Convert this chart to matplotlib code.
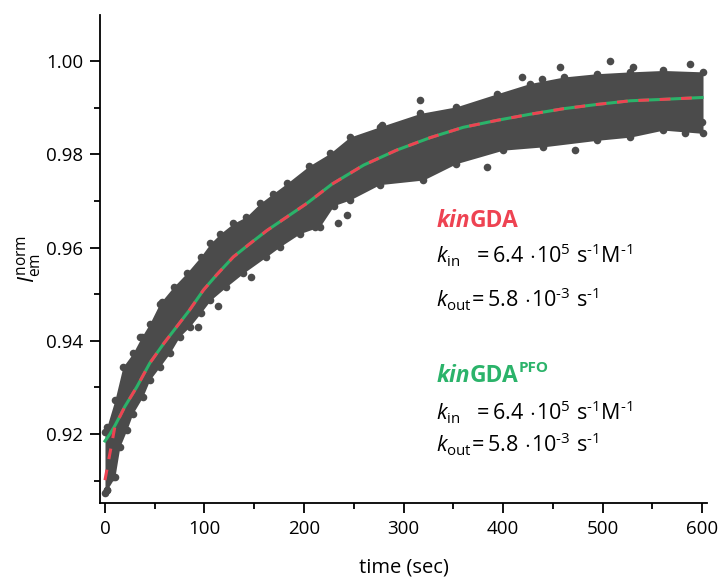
import numpy as np
import matplotlib
matplotlib.use('Agg')
import matplotlib.pyplot as plt

plt.rcParams['font.family'] = ['Open Sans', 'DejaVu Sans']
plt.rcParams['mathtext.fontset'] = 'custom'
plt.rcParams['mathtext.rm'] = 'Open Sans'
plt.rcParams['mathtext.it'] = 'Open Sans:italic'
plt.rcParams['mathtext.bf'] = 'Open Sans:bold'

# fit curves
fit_t = [0, 5, 10, 20, 32, 45, 59, 72, 85, 99, 112, 129, 146, 163, 183, 203, 228, 260, 293, 327,
         360, 394, 427, 461, 494, 528, 561, 600]
fit_red = [0.9101, 0.9159, 0.9216, 0.9259, 0.9301, 0.9352, 0.9394, 0.9430, 0.9466, 0.9509, 0.9541,
           0.9580, 0.9609, 0.9637, 0.9666, 0.9695, 0.9736, 0.9777, 0.9809, 0.9836, 0.9858, 0.9873,
           0.9886, 0.9898, 0.9907, 0.9915, 0.9918, 0.9922]
fit_green = [0.9185, 0.9200, 0.9218] + fit_red[3:]

# edges of the measured point cloud
up_t = [0, 2, 10, 18, 28, 37, 45, 55, 69, 82, 96, 106, 116, 129, 142, 156, 169, 183, 205, 226, 246,
        276, 317, 353, 394, 427, 461, 494, 528, 561, 601]
up_v = [0.9205, 0.9216, 0.9273, 0.9344, 0.9373, 0.9409, 0.9437, 0.9480, 0.9516, 0.9545, 0.9580,
        0.9609, 0.9630, 0.9652, 0.9666, 0.9695, 0.9716, 0.9738, 0.9775, 0.9802, 0.9837, 0.9859,
        0.9888, 0.9902, 0.9930, 0.9952, 0.9966, 0.9973, 0.9977, 0.9980, 0.9977]
lo_t = [0, 2, 10, 15, 22, 28, 38, 45, 55, 65, 75, 85, 96, 106, 122, 139, 162, 176, 196, 216, 230,
        246, 276, 320, 353, 400, 440, 494, 528, 561, 601]
lo_v = [0.9074, 0.9080, 0.9108, 0.9173, 0.9209, 0.9244, 0.9280, 0.9316, 0.9344, 0.9373, 0.9409,
        0.9430, 0.9459, 0.9487, 0.9516, 0.9545, 0.9580, 0.9602, 0.9630, 0.9645, 0.9690, 0.9702,
        0.9735, 0.9745, 0.9780, 0.9809, 0.9816, 0.9830, 0.9837, 0.9852, 0.9845]

# stray points outside the dense band
out_t = [457, 508, 531, 588, 419, 439, 317, 278, 234, 243, 384, 472, 600, 583, 211, 93, 114, 147,
         57, 35, 8, 2]
out_v = [0.9988, 1.0001, 0.9988, 0.9993, 0.9966, 0.9962, 0.9916, 0.9862, 0.9652, 0.9670, 0.9773,
         0.9809, 0.9869, 0.9845, 0.9644, 0.9429, 0.9474, 0.9537, 0.9483, 0.9408, 0.9108, 0.9080]

grey = '#4b4b4b'
red = '#ee4352'
green = '#2bb36a'

fig = plt.figure(figsize=(7.2, 5.8), dpi=100)
ax = fig.add_axes([100/720, 77/580, 607/720, 488/580])

# band: both edges put on a common grid of the read times
grid = np.union1d(up_t, lo_t)
ax.fill_between(grid, np.interp(grid, lo_t, lo_v), np.interp(grid, up_t, up_v), color=grey, lw=0, zorder=1)
ax.scatter(up_t, up_v, s=30, color=grey, lw=0, zorder=1)
ax.scatter(lo_t, lo_v, s=30, color=grey, lw=0, zorder=1)
ax.scatter(out_t, out_v, s=30, color=grey, lw=0, zorder=1)

ax.plot(fit_t, fit_green, color=green, lw=2.2, zorder=3)
ax.plot(fit_t, fit_red, color=red, lw=2.2, dashes=(3.5, 3.5), zorder=4)

ax.set_xlim(-5, 605)
ax.set_ylim(0.9052, 1.0099)
ax.set_xticks([0, 100, 200, 300, 400, 500, 600])
ax.set_xticks(np.arange(50, 600, 100), minor=True)
ax.set_yticks([0.92, 0.94, 0.96, 0.98, 1.00])
ax.set_yticks([0.91, 0.93, 0.95, 0.97, 0.99], minor=True)
ax.set_yticklabels(['0.92', '0.94', '0.96', '0.98', '1.00'])

for s in ['top', 'right']:
    ax.spines[s].set_visible(False)
for s in ['left', 'bottom']:
    ax.spines[s].set_linewidth(1.3)
ax.tick_params(which='major', length=7, width=1.3, labelsize=13.5, pad=5, direction='out')
ax.tick_params(which='minor', length=4, width=1.3, direction='out')

ax.set_xlabel('time (sec)', fontsize=14.5, labelpad=14)
ax.set_ylabel(r'$I_{\mathrm{em}}^{\mathrm{norm}}$', fontsize=16, labelpad=2)

# annotations
def label(y, color, sup=None):
    t1 = ax.text(333, y, 'kin', color=color, fontsize=16.5, fontweight='bold', fontstyle='italic', va='baseline')
    t2 = ax.annotate('GDA', xy=(1, 0), xycoords=t1, color=color, fontsize=16.5, fontweight='bold', va='bottom')
    if sup:
        ax.annotate(sup, xy=(1, 0.55), xycoords=t2, color=color, fontsize=11, fontweight='bold', va='bottom')

kin_txt = r'$k_{\mathrm{in}}\ \ =6.4\,\cdot\!10^{5}\ \mathrm{s}^{\text{-}1}\mathrm{M}^{\text{-}1}$'
kout_txt = r'$k_{\mathrm{out}}\!=5.8\,\cdot\!10^{\text{-}3}\ \mathrm{s}^{\text{-}1}$'

label(0.9644, red)
ax.text(333, 0.9567, kin_txt, fontsize=15.5, va='baseline')
ax.text(333, 0.9472, kout_txt, fontsize=15.5, va='baseline')

label(0.9311, green, 'PFO')
ax.text(333, 0.9230, kin_txt, fontsize=15.5, va='baseline')
ax.text(333, 0.9161, kout_txt, fontsize=15.5, va='baseline')

fig.savefig('out.png', dpi=100)
